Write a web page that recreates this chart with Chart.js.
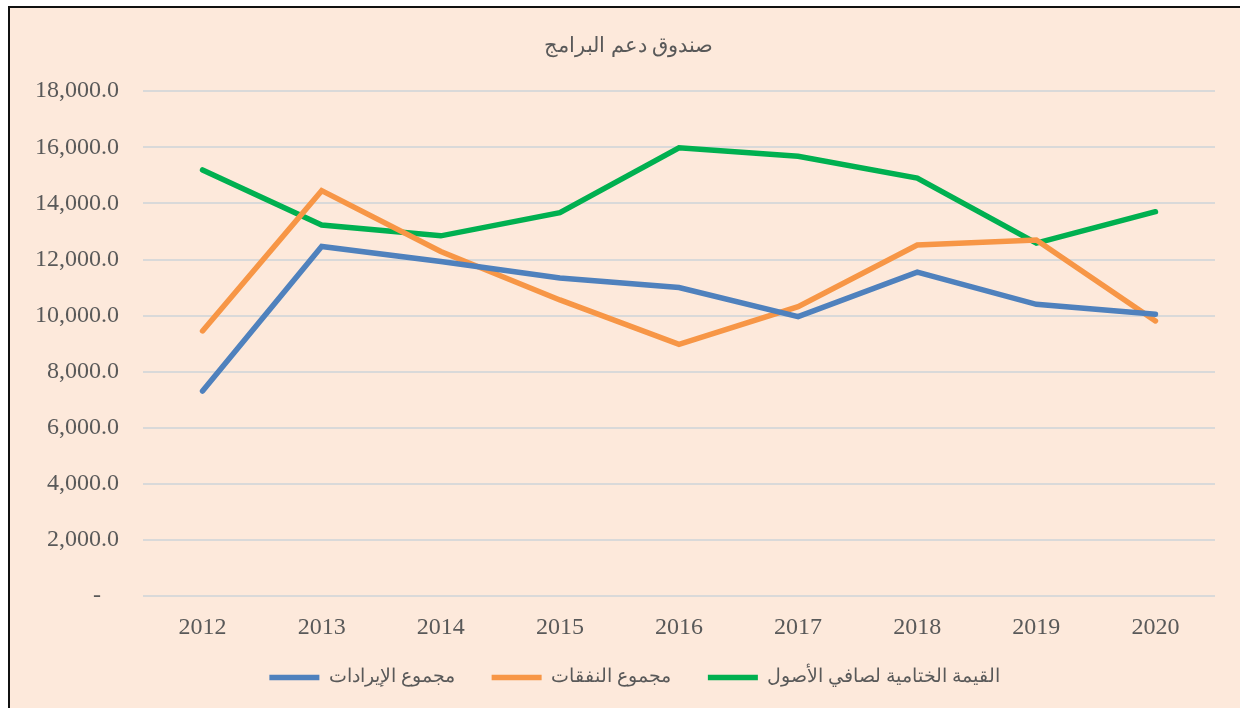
<!DOCTYPE html>
<html>
<head>
<meta charset="utf-8">
<script src="https://cdn.jsdelivr.net/npm/chart.js@4"></script>
<style>
    html, body { margin: 0; padding: 0; background: #fff; overflow: hidden; }
    #frame {
        position: absolute; left: 8px; top: 6px;
        width: 1240px; height: 710px;
        border-left: 2px solid #111; border-top: 2px solid #111;
        background: #fde9db;
    }
    #wrap { position: absolute; left: 0; top: 0; width: 1230px; height: 700px; }
</style>
</head>
<body>
<div id="frame"><div id="wrap"><canvas id="fund"></canvas></div></div>
<script>
/* ─── data ─────────────────────────────────────────────── */
const years = ['2012', '2013', '2014', '2015', '2016', '2017', '2018', '2019', '2020'];
const revenue  = [7310, 12465, 11930, 11345, 11000, 9965, 11550, 10405, 10050];
const expenses = [9455, 14455, 12285, 10560, 8980, 10320, 12515, 12695, 9810];
const netAssets = [15195, 13230, 12845, 13670, 15980, 15680, 14905, 12585, 13705];
const seriesNames = ['مجموع الإيرادات', 'مجموع النفقات', 'القيمة الختامية لصافي الأصول'];
const chartTitle = 'صندوق دعم البرامج';

const serif = '"Liberation Serif", "Times New Roman", "DejaVu Serif", serif';
const textColor = '#595959';

function makeLine(label, data, color) {
    return {
        label: label,
        data: data,
        borderColor: color,
        backgroundColor: color,
        borderWidth: 5.5,
        borderCapStyle: 'round',
        borderJoinStyle: 'miter',
        pointRadius: 0,
        tension: 0,
        fill: false,
    };
}

// nudge title + legend: in the original they sit a bit right of centre,
// and the legend hugs the axis labels
const blockNudge = {
    id: 'blockNudge',
    afterLayout(chart) {
        const l = chart.legend;
        if (l) {
            l.left += 22; l.right += 22;
            l.top -= 28; l.bottom -= 28;
        }
        const t = chart.titleBlock;
        if (t) { t.left += 16; t.right += 16; }
    }
};

const ctx = document.getElementById('fund');
new Chart(ctx, {
    type: 'line',
    data: {
        labels: years,
        datasets: [
            makeLine(seriesNames[0], revenue, '#4f81bd'),
            makeLine(seriesNames[1], expenses, '#f79646'),
            makeLine(seriesNames[2], netAssets, '#00b050'),
        ]
    },
    options: {
        responsive: true,
        maintainAspectRatio: false,
        animation: false,
        layout: { padding: { left: 0, right: 25, top: 0, bottom: -17 } },
        plugins: {
            title: {
                display: true,
                text: chartTitle,
                color: textColor,
                font: { family: serif, size: 21, weight: 'normal' },
                padding: { top: 26, bottom: 32 }
            },
            legend: {
                position: 'bottom',
                labels: {
                    color: textColor,
                    font: { family: serif, size: 19 },
                    usePointStyle: true,
                    pointStyle: 'line',
                    pointStyleWidth: 50,
                    boxHeight: 20,
                    padding: 37
                }
            },
            tooltip: { enabled: false }
        },
        scales: {
            x: {
                offset: true,
                grid: { display: false, drawTicks: false },
                border: { display: false },
                ticks: { color: textColor, font: { family: serif, size: 24 }, padding: 17 }
            },
            y: {
                min: 0,
                max: 18000,
                grid: { color: '#d9d9d9', lineWidth: 2, drawTicks: false },
                border: { display: false },
                afterFit: s => { s.width = 133; },
                ticks: {
                    stepSize: 2000,
                    color: textColor,
                    font: { family: serif, size: 24 },
                    padding: 24,
                    callback: v => v === 0 ? '-   ' :
                        v.toLocaleString('en-US', { minimumFractionDigits: 1, maximumFractionDigits: 1 })
                }
            }
        }
    },
    plugins: [blockNudge]
});
</script>
</body>
</html>
